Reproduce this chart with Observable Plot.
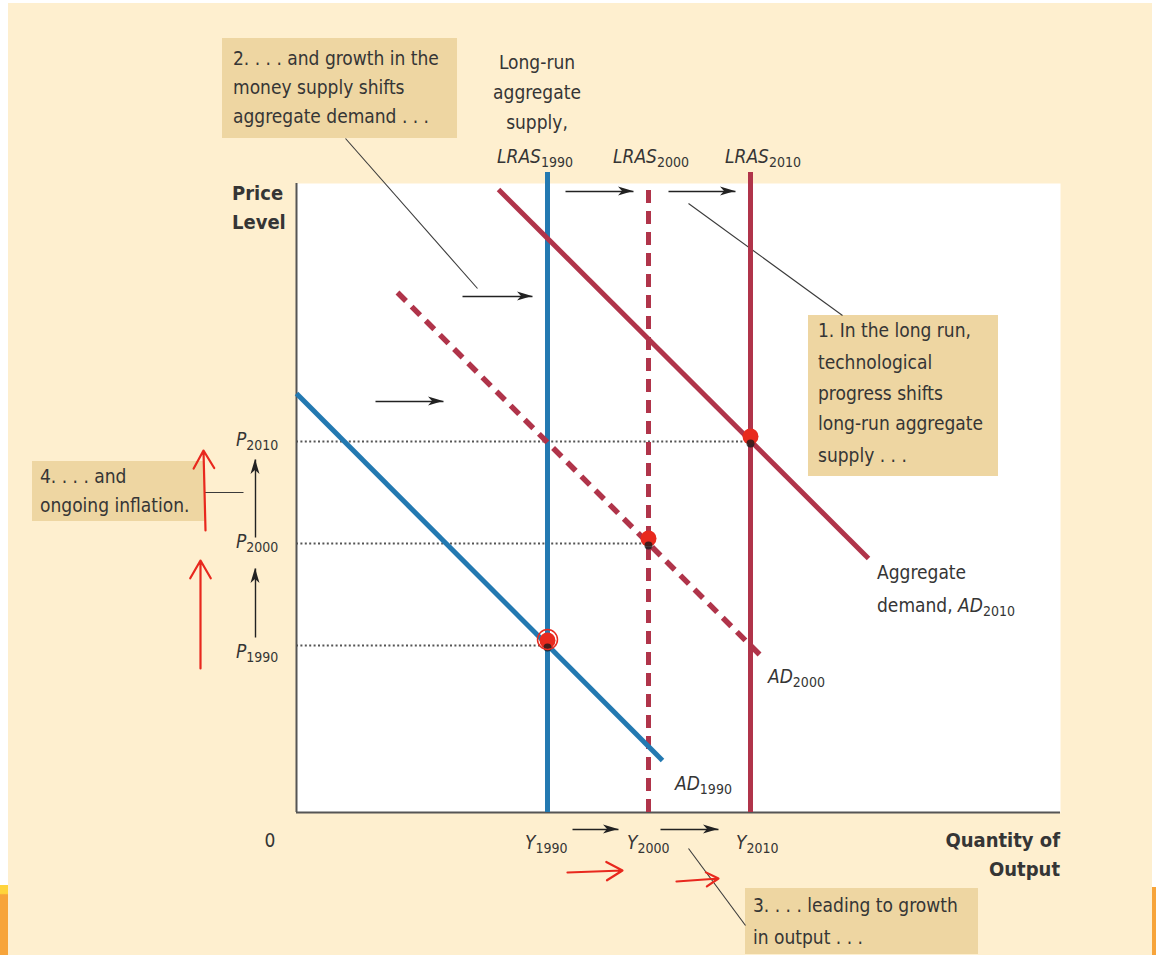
<!DOCTYPE html>
<html>
<head>
<meta charset="utf-8">
<script src="https://cdn.jsdelivr.net/npm/d3@7"></script>
<script src="https://cdn.jsdelivr.net/npm/@observablehq/plot@0.6"></script>
<style>
  html, body { margin: 0; padding: 0; background: #ffffff; }
  #page { position: relative; width: 1156px; height: 960px; overflow: hidden; }
  #cream { position: absolute; left: 8px; top: 3px; width: 1144px; height: 952px; background: #FEEFCF; }
  #stripL { position: absolute; left: 0; top: 885px; width: 8px; height: 70px; background: linear-gradient(#FFD43C 0%, #FFD43C 12%, #F7A43A 14%, #F7A43A 100%); }
  #stripR { position: absolute; left: 1152px; top: 887px; width: 4px; height: 68px; background: #F7A43A; }
  #chart { position: absolute; left: 0; top: 0; }
</style>
</head>
<body>
<div id="page">
  <div id="cream"></div>
  <div id="stripL"></div>
  <div id="stripR"></div>
  <div id="chart"></div>
</div>
<script>
// ---------------- data ----------------
const years = ["1990", "2000", "2010"];
const outputLevels = [25.1, 35.2, 45.4];     // Y1990, Y2000, Y2010 (LRAS positions)
const priceLevels = [16.7, 26.9, 37.1];      // P1990, P2000, P2010
const lrasTop = [64.0, 62.5, 64.0];
// aggregate demand segments: start (x1,y1) and end (x2,y2)
const adStartQ = [0, 10.1, 20.2];
const adStartP = [41.9, 52.0, 62.3];
const adEndQ = [36.6, 46.6, 57.2];
const adEndP = [5.2, 15.5, 25.4];
const yearColor = ["#2379B1", "#B0344A", "#B0344A"];

const eq = years.map((yr, i) => ({year: yr, q: outputLevels[i], p: priceLevels[i], top: lrasTop[i]}));
const ad = years.map((yr, i) => ({year: yr, x1: adStartQ[i], y1: adStartP[i], x2: adEndQ[i], y2: adEndP[i]}));

// annotation boxes
const boxes = [
  {x1: -7.4, x2: 16.1, y1: 77.4, y2: 67.4},
  {x1: 51.2, x2: 70.2, y1: 49.7, y2: 33.6},
  {x1: -26.4, x2: -9.2, y1: 35.1, y2: 29.1},
  {x1: 44.9, x2: 68.2, y1: -7.6, y2: -14.2}
];
const leaders = [
  {x1: 4.9, y1: 67.4, x2: 18.1, y2: 52.4},
  {x1: 39.2, y1: 60.9, x2: 54.6, y2: 49.7},
  {x1: -9.2, y1: 32.0, x2: -5.3, y2: 32.0},
  {x1: 39.2, y1: -3.6, x2: 44.9, y2: -11.3}
];
const blackArrows = [
  {x1: 16.6, y1: 51.6, x2: 23.6, y2: 51.6},
  {x1: 7.9, y1: 41.1, x2: 14.7, y2: 41.1},
  {x1: 26.9, y1: 62.1, x2: 33.7, y2: 62.1},
  {x1: 37.2, y1: 62.1, x2: 43.9, y2: 62.1},
  {x1: 27.6, y1: -1.7, x2: 32.2, y2: -1.7},
  {x1: 36.4, y1: -1.7, x2: 42.2, y2: -1.7},
  {x1: -4.1, y1: 17.5, x2: -4.1, y2: 24.4},
  {x1: -4.1, y1: 27.5, x2: -4.1, y2: 35.3}
];
const redArrows = [
  {x1: 27.1, y1: -6.0, x2: 32.6, y2: -5.8},
  {x1: 38.0, y1: -6.9, x2: 42.2, y2: -6.6},
  {x1: -9.6, y1: 14.4, x2: -9.6, y2: 25.2},
  {x1: -9.1, y1: 28.2, x2: -9.3, y2: 36.2}
];

// text helpers
const T = t => ({t}), I = t => ({t, i: true}), S = t => ({t, s: true});
const labels = [
  {x: -6.3, y: 75.4, parts: [T("2. . . . and growth in the")]},
  {x: -6.3, y: 72.5, parts: [T("money supply shifts")]},
  {x: -6.3, y: 69.6, parts: [T("aggregate demand . . .")]},
  {x: 52.2, y: 48.2, parts: [T("1. In the long run,")]},
  {x: 52.2, y: 45.0, parts: [T("technological")]},
  {x: 52.2, y: 41.9, parts: [T("progress shifts")]},
  {x: 52.2, y: 38.9, parts: [T("long-run aggregate")]},
  {x: 52.2, y: 35.7, parts: [T("supply . . .")]},
  {x: -25.6, y: 33.6, parts: [T("4. . . . and")]},
  {x: -25.6, y: 30.7, parts: [T("ongoing inflation.")]},
  {x: 45.7, y: -9.3, parts: [T("3. . . . leading to growth")]},
  {x: 45.7, y: -12.5, parts: [T("in output . . .")]},
  {x: 24.1, y: 75.0, anchor: "middle", parts: [T("Long-run")]},
  {x: 24.1, y: 72.0, anchor: "middle", parts: [T("aggregate")]},
  {x: 24.1, y: 69.0, anchor: "middle", parts: [T("supply,")]},
  {x: 23.9, y: 65.6, anchor: "middle", parts: [I("LRAS"), S("1990")]},
  {x: 35.5, y: 65.6, anchor: "middle", parts: [I("LRAS"), S("2000")]},
  {x: 46.7, y: 65.6, anchor: "middle", parts: [I("LRAS"), S("2010")]},
  {x: -6.4, y: 61.9, bold: true, parts: [T("Price")]},
  {x: -6.4, y: 59.0, bold: true, parts: [T("Level")]},
  {x: -6.0, y: 37.3, parts: [I("P"), S("2010")]},
  {x: -6.0, y: 27.1, parts: [I("P"), S("2000")]},
  {x: -6.0, y: 16.1, parts: [I("P"), S("1990")]},
  {x: -2.6, y: -2.8, anchor: "middle", parts: [T("0")]},
  {x: 22.9, y: -3.0, parts: [I("Y"), S("1990")]},
  {x: 33.1, y: -3.0, parts: [I("Y"), S("2000")]},
  {x: 44.0, y: -3.0, parts: [I("Y"), S("2010")]},
  {x: 76.4, y: -2.8, anchor: "end", bold: true, parts: [T("Quantity of")]},
  {x: 76.4, y: -5.7, anchor: "end", bold: true, parts: [T("Output")]},
  {x: 58.1, y: 24.0, parts: [T("Aggregate")]},
  {x: 58.1, y: 20.7, parts: [T("demand, "), I("AD"), S("2010")]},
  {x: 47.2, y: 13.6, parts: [I("AD"), S("2000")]},
  {x: 37.9, y: 2.9, parts: [I("AD"), S("1990")]}
];

// ---------------- rendering helpers ----------------
const FONT = "'Liberation Sans Narrow', 'DejaVu Sans Condensed', 'Roboto Condensed', 'Liberation Sans', sans-serif";

function richText(items) {
  return (index, scales) => {
    const g = d3.create("svg:g").attr("font-family", FONT).attr("fill", "#353535");
    for (const it of items) {
      const t = g.append("text")
        .attr("x", scales.x(it.x))
        .attr("y", scales.y(it.y))
        .attr("text-anchor", it.anchor || "start")
        .attr("dominant-baseline", "central")
        .attr("font-size", it.bold ? 20 : 19)
        .attr("font-weight", it.bold ? "bold" : null);
      for (const p of it.parts) {
        const s = t.append("tspan").text(p.t);
        if (p.i) s.attr("font-style", "italic");
        if (p.s) s.attr("font-size", 14).attr("dy", "0.45em").attr("font-style", null);
      }
    }
    return g.node();
  };
}

function arrowHeads(arrows, color) {
  return (index, scales) => {
    const g = d3.create("svg:g").attr("fill", color);
    const L = 15, W = 9, N = 4;
    for (const a of arrows) {
      const x1 = scales.x(a.x1), y1 = scales.y(a.y1), x2 = scales.x(a.x2), y2 = scales.y(a.y2);
      const ang = Math.atan2(y2 - y1, x2 - x1) * 180 / Math.PI;
      g.append("path")
        .attr("d", `M0,0 L${-L},${-W / 2} L${-L + N},0 L${-L},${W / 2} Z`)
        .attr("transform", `translate(${x2},${y2}) rotate(${ang})`);
    }
    return g.node();
  };
}

const isDashed = d => d.year === "2000";

const chart = Plot.plot({
  width: 1156,
  height: 960,
  marginLeft: 296,
  marginRight: 96,
  marginTop: 183,
  marginBottom: 148,
  x: {domain: [0, 76.4], axis: null},
  y: {domain: [0, 62.9], axis: null},
  style: {background: "transparent", overflow: "visible"},
  marks: [
    Plot.frame({fill: "white", stroke: "none"}),
    Plot.rect(boxes, {x1: "x1", x2: "x2", y1: "y1", y2: "y2", fill: "#EED6A2"}),
    Plot.link(leaders, {x1: "x1", y1: "y1", x2: "x2", y2: "y2", stroke: "#3a3a3a", strokeWidth: 1.1}),
    // dotted price-level guides
    Plot.ruleY(eq, {y: "p", x1: 0, x2: "q", stroke: "#555", strokeWidth: 1.8, strokeDasharray: "2,2.4"}),
    // axes
    Plot.ruleX([0], {y1: 0, y2: 62.9, stroke: "#555", strokeWidth: 2}),
    Plot.ruleY([0], {x1: 0, x2: 76.4, stroke: "#555", strokeWidth: 2}),
    // LRAS
    Plot.ruleX(eq.filter(d => !isDashed(d)), {x: "q", y1: 0, y2: "top", stroke: d => yearColor[years.indexOf(d.year)], strokeWidth: 5}),
    Plot.ruleX(eq.filter(isDashed), {x: "q", y1: 0, y2: "top", stroke: yearColor[1], strokeWidth: 5, strokeDasharray: "13,8"}),
    // AD curves
    Plot.link(ad.filter(d => !isDashed(d)), {x1: "x1", y1: "y1", x2: "x2", y2: "y2", stroke: d => yearColor[years.indexOf(d.year)], strokeWidth: 5}),
    Plot.link(ad.filter(isDashed), {x1: "x1", y1: "y1", x2: "x2", y2: "y2", stroke: yearColor[1], strokeWidth: 5.5, strokeDasharray: "12,8"}),
    // black arrows
    Plot.link(blackArrows, {x1: "x1", y1: "y1", x2: "x2", y2: "y2", stroke: "#222", strokeWidth: 1.4}),
    arrowHeads(blackArrows, "#222"),
    // hand-drawn red marks
    Plot.dot(eq, {x: "q", y: d => d.p + 0.5, r: 8, fill: "#E82A1E"}),
    Plot.dot(eq, {x: "q", y: d => d.p - 0.2, r: 4, fill: "#1a1a1a", fillOpacity: 0.8}),
    Plot.dot(eq.filter(d => d.year === "1990"), {x: "q", y: d => d.p + 0.6, r: 10, stroke: "#E82A1E", strokeWidth: 1.5, fill: "none"}),
    Plot.arrow(redArrows, {x1: "x1", y1: "y1", x2: "x2", y2: "y2", stroke: "#E8281E", strokeWidth: 2.2, headLength: 14}),
    // text
    richText(labels)
  ]
});
document.getElementById("chart").appendChild(chart);
</script>
</body>
</html>
